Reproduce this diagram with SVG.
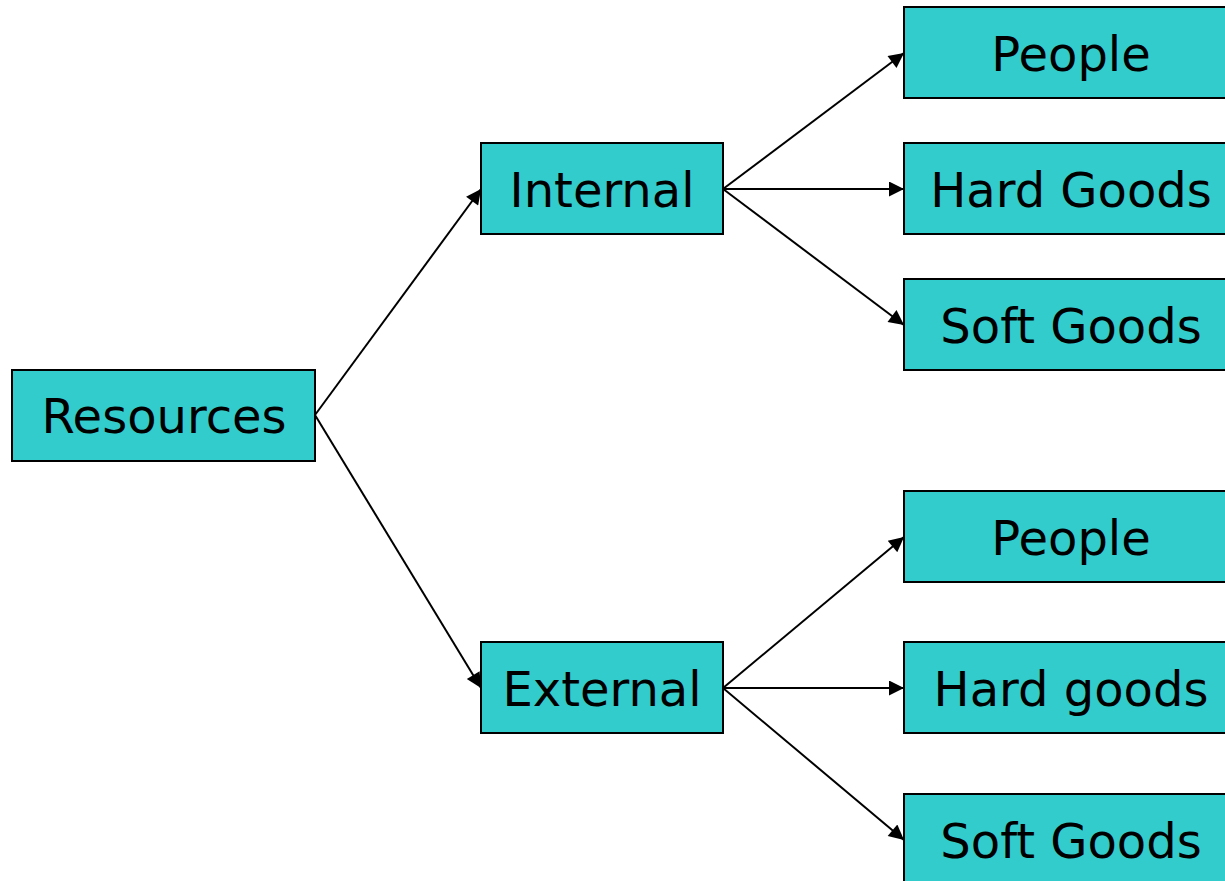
<svg xmlns="http://www.w3.org/2000/svg" width="1225" height="881" viewBox="0 0 1225 881">
<style>
.box{fill:#33CCCC;stroke:#000;stroke-width:2}
.lbl{font-family:"DejaVu Sans",Verdana,sans-serif;font-size:48px;fill:#000;text-anchor:middle}
.edge{stroke:#000;stroke-width:2;fill:none;marker-end:url(#ah)}
</style>
<defs>
<marker id="ah" viewBox="0 0 10 10" refX="10" refY="5" markerWidth="8.5" markerHeight="7.5" markerUnits="strokeWidth" orient="auto">
<path d="M0,0 L10,5 L0,10 z" fill="#000"/>
</marker>
</defs>
<rect width="1225" height="881" fill="#fff"/>
<g id="connectors">
<line class="edge" x1="315" y1="415" x2="481" y2="189"/>
<line class="edge" x1="315" y1="415" x2="481" y2="688"/>
<line class="edge" x1="723" y1="189" x2="904" y2="53"/>
<line class="edge" x1="723" y1="189" x2="904" y2="189"/>
<line class="edge" x1="723" y1="189" x2="904" y2="325"/>
<line class="edge" x1="723" y1="688" x2="904" y2="537"/>
<line class="edge" x1="723" y1="688" x2="904" y2="688"/>
<line class="edge" x1="723" y1="688" x2="904" y2="840"/>
</g>
<g id="resources"><rect class="box" x="12" y="370" width="303" height="91"/><text class="lbl" x="164" y="433">Resources</text></g>
<g id="internal"><rect class="box" x="481" y="143" width="242" height="91"/><text class="lbl" x="602" y="207">Internal</text></g>
<g id="external"><rect class="box" x="481" y="642" width="242" height="91"/><text class="lbl" x="602" y="706">External</text></g>
<g id="int-people"><rect class="box" x="904" y="7" width="334" height="91"/><text class="lbl" x="1071" y="71">People</text></g>
<g id="int-hard"><rect class="box" x="904" y="143" width="334" height="91"/><text class="lbl" x="1071" y="207">Hard Goods</text></g>
<g id="int-soft"><rect class="box" x="904" y="279" width="334" height="91"/><text class="lbl" x="1071" y="343">Soft Goods</text></g>
<g id="ext-people"><rect class="box" x="904" y="491" width="334" height="91"/><text class="lbl" x="1071" y="555">People</text></g>
<g id="ext-hard"><rect class="box" x="904" y="642" width="334" height="91"/><text class="lbl" x="1071" y="706">Hard goods</text></g>
<g id="ext-soft"><rect class="box" x="904" y="794" width="334" height="91"/><text class="lbl" x="1071" y="858">Soft Goods</text></g>
</svg>
